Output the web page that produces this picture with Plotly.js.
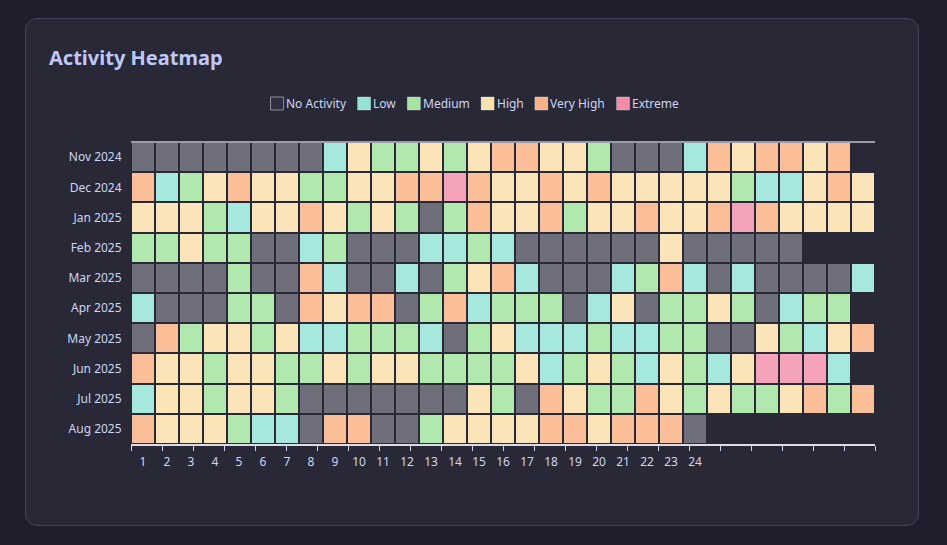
<!DOCTYPE html>
<html>
<head>
<meta charset="utf-8">
<script src="https://cdn.plot.ly/plotly-3.0.1.min.js"></script>
<style>
  html, body { margin: 0; padding: 0; background: #1e1e2d; width: 947px; height: 545px; overflow: hidden; }
  #card { position: absolute; left: 25px; top: 18px; width: 892px; height: 506px; background: #282837; border: 1px solid #44445a; border-radius: 12px; }
  #chart { position: absolute; left: 0; top: 0; width: 947px; height: 545px; }
</style>
</head>
<body>
<div id="card"></div>
<div id="chart"></div>
<script>
// ---- data ----
const months = ['Nov 2024', 'Dec 2024', 'Jan 2025', 'Feb 2025', 'Mar 2025', 'Apr 2025', 'May 2025', 'Jun 2025', 'Jul 2025', 'Aug 2025'];
const days = [1,2,3,4,5,6,7,8,9,10,11,12,13,14,15,16,17,18,19,20,21,22,23,24,25,26,27,28,29,30,31];
const xTickLabels = ['1','2','3','4','5','6','7','8','9','10','11','12','13','14','15','16','17','18','19','20','21','22','23','24'];
const levelNames = ['No Activity', 'Low', 'Medium', 'High', 'Very High', 'Extreme'];
const levelColors = ['#6f6f7b', '#a6e8dd', '#b1e8ae', '#fbe5b8', '#fabf99', '#f5a3ba'];
const legendSwatchColors = ['#2f2f40', '#94e2d5', '#a6e3a1', '#f9e2af', '#fab387', '#f38ba8'];

// activity level per day (0 = none ... 5 = extreme)
const nov2024 = [0,0,0,0,0,0,0,0,1,3,2,2,3,2,3,4,4,3,3,2,0,0,0,1,4,3,4,4,3,4];
const dec2024 = [4,1,2,3,4,3,3,2,2,3,3,4,4,5,4,3,3,4,3,4,3,3,3,3,3,2,1,1,3,4,3];
const jan2025 = [3,3,3,2,1,3,3,4,3,2,3,2,0,2,4,3,3,4,2,3,3,4,3,3,4,5,4,3,3,3,3];
const feb2025 = [2,2,3,2,2,0,0,1,2,0,0,0,1,1,2,1,0,0,0,0,0,0,3,0,0,0,0,0];
const mar2025 = [0,0,0,0,2,0,0,4,1,0,0,1,0,2,3,4,1,0,0,0,1,2,4,1,0,1,0,0,0,0,1];
const apr2025 = [1,0,0,0,2,2,0,4,3,4,4,0,2,4,1,2,2,2,0,1,3,0,2,2,3,2,0,1,2,2];
const may2025 = [0,4,2,3,3,2,3,1,1,2,2,2,1,0,2,3,1,1,1,2,1,1,2,2,0,0,3,2,1,3,4];
const jun2025 = [4,3,3,2,3,3,2,2,3,2,3,3,2,2,2,2,3,1,2,3,2,1,3,2,1,3,5,5,5,1];
const jul2025 = [1,3,3,2,3,3,2,0,0,0,0,0,0,0,3,2,0,4,3,2,2,4,3,2,3,2,2,3,4,2,4];
const aug2025 = [4,3,3,3,2,1,1,0,4,4,0,0,2,3,3,3,3,4,4,3,4,4,4,0];

// ---- build ----
const rows = [nov2024, dec2024, jan2025, feb2025, mar2025, apr2025, may2025, jun2025, jul2025, aug2025];
const z = rows.map(r => days.map((d, i) => (i < r.length ? r[i] : null)));

const n = levelColors.length;
const colorscale = [];
levelColors.forEach((c, i) => {
  colorscale.push([i / n, c]);
  colorscale.push([(i + 1) / n, c]);
});

const W = 947, H = 545;
const M = { l: 131, r: 72, t: 142, b: 101 };
const pw = W - M.l - M.r, ph = H - M.t - M.b;
const px2x = px => (px - M.l) / pw;
const py2y = py => (H - M.b - py) / ph;

const nLabels = xTickLabels.length;
const x0 = days[0] - 0.5, x1 = days[days.length - 1] + 0.5;
const tickMarks = [];
for (let k = 0; k <= nLabels; k++) tickMarks.push(x0 + k * (x1 - x0) / nLabels);

const traces = [
  {
    type: 'heatmap', x: days, y: months, z: z,
    colorscale: colorscale, zmin: -0.5, zmax: n - 0.5,
    showscale: false, xgap: 2, ygap: 2, hoverinfo: 'none',
    xaxis: 'x', yaxis: 'y'
  },
  { type: 'scatter', x: [null], y: [null], xaxis: 'x2', yaxis: 'y', showlegend: false, hoverinfo: 'skip' }
];

// custom legend (measured text)
const fontFam = '"Noto Sans", "Open Sans", sans-serif';
const cv = document.createElement('canvas').getContext('2d');
cv.font = '12px "Noto Sans"';
const sw = 14, gapT = 2, gapI = 11;
const widths = levelNames.map(t => cv.measureText(t).width);
const total = widths.reduce((a, w) => a + sw + gapT + w, 0) + gapI * (levelNames.length - 1);
let cx = W / 2 - total / 2 + 1;
const legY = 103.5;
const shapes = [
  { type: 'line', xref: 'paper', yref: 'paper', x0: 0, x1: 1, y0: 1, y1: 1, line: { color: '#9a9aa8', width: 2 }, layer: 'above' }
];
const annotations = [];
levelNames.forEach((name, i) => {
  shapes.push({
    type: 'rect', xref: 'paper', yref: 'paper',
    x0: px2x(cx + 0.5), x1: px2x(cx + sw - 0.5), y0: py2y(legY + sw / 2 - 0.5), y1: py2y(legY - sw / 2 + 0.5),
    fillcolor: legendSwatchColors[i],
    line: { color: i === 0 ? '#8e8e9e' : 'rgba(255,255,255,0.3)', width: 1 }
  });
  annotations.push({
    xref: 'paper', yref: 'paper', x: px2x(cx + sw + gapT), y: py2y(legY),
    xanchor: 'left', yanchor: 'middle', showarrow: false, text: name,
    font: { family: fontFam, size: 12, color: '#cdd6f4' }, borderpad: 0, borderwidth: 0
  });
  cx += sw + gapT + widths[i] + gapI;
});

const layout = {
  width: W, height: H,
  margin: M,
  paper_bgcolor: 'rgba(0,0,0,0)',
  plot_bgcolor: '#282837',
  font: { family: fontFam, size: 12, color: '#cdd6f4' },
  title: {
    text: '<b>Activity Heatmap</b>',
    xref: 'container', yref: 'container', x: 49 / W, y: 1 - 58 / H,
    xanchor: 'left', yanchor: 'middle',
    font: { family: fontFam, size: 20, color: '#bfc8f8' }
  },
  showlegend: false,
  xaxis: {
    range: [x0, x1], tickmode: 'array', tickvals: tickMarks,
    showticklabels: false, ticks: 'outside', ticklen: 5, tickwidth: 1, tickcolor: '#cdd6f4',
    showline: true, linecolor: '#dcdcea', linewidth: 2, layer: 'below traces',
    showgrid: false, zeroline: false, fixedrange: true
  },
  xaxis2: {
    overlaying: 'x', side: 'bottom', anchor: 'y',
    range: [x0, x1], tickmode: 'array', tickvals: days.slice(0, nLabels), ticktext: xTickLabels,
    ticks: 'outside', ticklen: 7, tickcolor: 'rgba(0,0,0,0)',
    tickfont: { family: fontFam, size: 12, color: '#cdd6f4' },
    showline: false, showgrid: false, zeroline: false, fixedrange: true
  },
  yaxis: {
    type: 'category', autorange: 'reversed',
    ticks: 'outside', ticklen: 6, tickcolor: 'rgba(0,0,0,0)',
    tickfont: { family: fontFam, size: 12, color: '#cdd6f4' },
    showline: false, showgrid: false, zeroline: false, fixedrange: true
  },
  shapes: shapes,
  annotations: annotations
};

Plotly.newPlot('chart', traces, layout, { displayModeBar: false, staticPlot: true });
</script>
</body>
</html>
